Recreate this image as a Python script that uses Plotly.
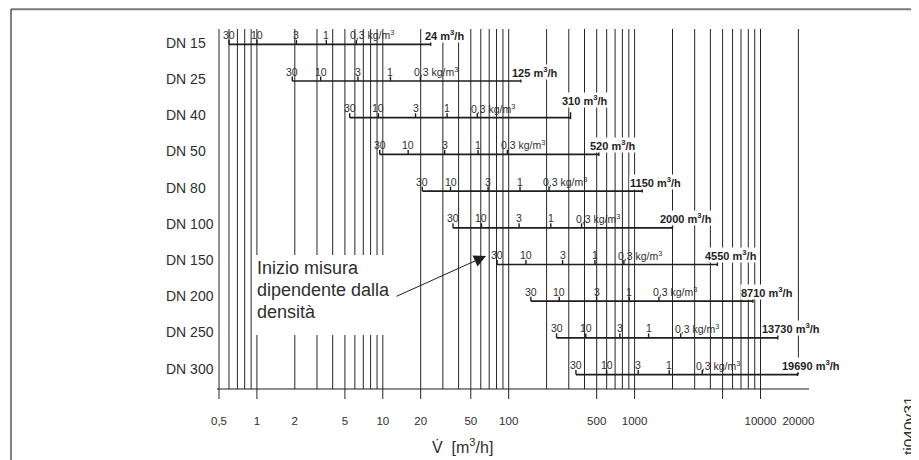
import math
import plotly.graph_objects as go

# ---------------- data ----------------
dn_labels = ["DN 15", "DN 25", "DN 40", "DN 50", "DN 80",
             "DN 100", "DN 150", "DN 200", "DN 250", "DN 300"]
# flow rate (m3/h) at which measurement starts, for gas density (kg/m3)
q_rho30 = [0.60, 1.91, 5.46, 9.45, 20.6, 36.1, 80.9, 150, 240, 342]
q_rho10 = [1.00, 3.21, 9.23, 15.9, 34.5, 60.8, 137, 252, 410, 599]
q_rho3 = [2.06, 6.35, 18.2, 31.0, 68.6, 121, 268, 499, 764, 1068]
q_rho1 = [3.56, 11.5, 32.4, 57.1, 123, 216, 484, 906, 1292, 1884]
q_rho03 = [6.17, 19.9, 56.3, 97.5, 209, 379, 822, 1560, 2321, 3447]
q_max = [24, 125, 310, 520, 1150, 2000, 4550, 8710, 13730, 19690]
density_labels = ["30", "10", "3", "1", "0,3 kg/m<sup>3</sup>"]

tick_vals = [0.5, 1, 2, 5, 10, 20, 50, 100, 500, 1000, 10000, 20000]
tick_text = ["0,5", "1", "2", "5", "10", "20", "50", "100", "500", "1000", "10000", "20000"]
tick_marks = [0.5, 1, 5, 10, 20, 50, 100, 500, 1000, 5000, 10000]

# ---------------- layout geometry ----------------
# page body has an 8px default margin; figure is sized to end at the window edge
OFF = 8
W, H = 919 - OFF, 460 - OFF
L, R_PX, T, B = 217, 811, 29, 400          # in window pixels
PX_PER_DEC = 125.9
x_lo = math.log10(0.5) - 2 / PX_PER_DEC
x_hi = x_lo + (R_PX - L) / PX_PER_DEC
ROW0, ROW_H = 44.3, 36.7


def row_of(px):
    return (px - ROW0) / ROW_H


def pxx(x):
    return (x - L) / (R_PX - L)


def pyy(y):
    return 1 - (y - T) / (B - T)


y_top = row_of(T)
y_bot = row_of(B)
axis_row = row_of(389)
tick_end_row = row_of(399)
n = len(dn_labels)
last_row = n - 1

FONT = "Liberation Sans, Arial, Helvetica, sans-serif"
INK = "#1e1e1e"
TXT = "#2e2e2e"

fig = go.Figure()

# vertical log grid
grid_vals = []
for e in range(-1, 5):
    for m in range(1, 10):
        v = m * 10 ** e
        if 0.5 - 1e-9 <= v <= 20000 + 1e-6:
            grid_vals.append(v)
gx, gy = [], []
for v in grid_vals:
    bottom = axis_row if v < 20000 else last_row
    gx += [v, v, None]
    gy += [y_top, bottom, None]
for v in tick_marks:
    gx += [v, v, None]
    gy += [axis_row, tick_end_row, None]
fig.add_trace(go.Scatter(x=gx, y=gy, mode="lines",
                         line=dict(color="#262626", width=1),
                         hoverinfo="skip"))

# axis line
axis_end = 10 ** (x_hi - 2 / PX_PER_DEC)
fig.add_trace(go.Scatter(x=[10 ** x_lo, axis_end], y=[axis_row, axis_row],
                         mode="lines", line=dict(color=INK, width=1.2),
                         hoverinfo="skip"))

# bars
bx, by = [], []
for k in range(n):
    bx += [q_rho30[k], q_max[k], None]
    by += [k, k, None]
fig.add_trace(go.Scatter(x=bx, y=by, mode="lines",
                         line=dict(color=INK, width=1.7), hoverinfo="skip"))

# bar ticks
series = [q_rho30, q_rho10, q_rho3, q_rho1, q_rho03]
tx, ty = [], []
up = 4.5 / ROW_H
for k in range(n):
    for s in series:
        tx += [s[k], s[k], None]
        ty += [k, k - up, None]
    tx += [q_max[k], q_max[k], None]
    ty += [k + 1.5 / ROW_H, k - 5.5 / ROW_H, None]
fig.add_trace(go.Scatter(x=tx, y=ty, mode="lines",
                         line=dict(color=INK, width=1.4), hoverinfo="skip"))

annotations = []
# DN labels
for k, lab in enumerate(dn_labels):
    annotations.append(dict(xref="paper", yref="y", x=pxx(164), y=k,
                            xanchor="left", yanchor="middle",
                            yshift=1.6 + 0.5 * k, showarrow=False,
                            text=lab, font=dict(size=14, color=TXT, family=FONT)))

# density labels
for k in range(n):
    for s, lab in zip(series, density_labels):
        is_unit = "kg" in lab
        annotations.append(dict(xref="x", yref="y", x=math.log10(s[k]), y=k,
                                xanchor="left" if is_unit else "center",
                                xshift=-8 if is_unit else 0,
                                yanchor="middle", yshift=9.5, showarrow=False,
                                text=lab,
                                font=dict(size=10.5, color=TXT, family=FONT)))

# max labels
MAX_LABEL_RAISE = {"DN 40": 18}
for k in range(n):
    num = str(q_max[k])
    annotations.append(dict(xref="x", yref="y", x=math.log10(q_max[k]), y=k,
                            xanchor="left", xshift=-3.3 * len(num),
                            yanchor="middle",
                            yshift=MAX_LABEL_RAISE.get(dn_labels[k], 9.5),
                            showarrow=False, bgcolor="white", borderpad=0,
                            text="<b>%s m<sup>3</sup>/h</b>" % num,
                            font=dict(size=11, color=INK, family=FONT)))

# explanatory text (white box hides the grid behind it) and arrow
note_lines = ["Inizio misura", "dipendente dalla", "densità"]
for i, line in enumerate(note_lines):
    annotations.append(dict(xref="paper", yref="paper", x=pxx(255),
                            y=pyy(268.3 + 21.7 * i),
                            xanchor="left", yanchor="middle", align="left",
                            showarrow=False, text=line,
                            font=dict(size=18, color=TXT, family=FONT)))
annotations.append(dict(xref="paper", yref="paper", x=pxx(486), y=pyy(256),
                        showarrow=True, arrowhead=2, arrowsize=2.4,
                        arrowwidth=1, arrowcolor=INK, ax=-91, ay=41, text=""))

# axis title
annotations.append(dict(xref="paper", yref="paper", x=pxx(430), y=pyy(446),
                        xanchor="left", yanchor="middle", showarrow=False,
                        text="V\u0307 \u00a0[m<sup>3</sup>/h]",
                        font=dict(size=16, color=TXT, family=FONT)))
# figure code
annotations.append(dict(xref="paper", yref="paper", x=pxx(909), y=pyy(426),
                        xanchor="center", yanchor="middle", showarrow=False,
                        textangle=-90, text="ti040y31",
                        font=dict(size=15.5, color=TXT, family=FONT)))

shapes = [
    dict(type="rect", xref="paper", yref="paper",
         x0=pxx(255), x1=pxx(392), y0=pyy(335), y1=pyy(255),
         fillcolor="white", line=dict(width=0), layer="above"),
    # outer frame
    dict(type="line", xref="paper", yref="paper",
         x0=pxx(11), x1=pxx(917), y0=pyy(9.2), y1=pyy(9.2),
         line=dict(color="#7a7a7a", width=2), layer="above"),
    dict(type="line", xref="paper", yref="paper",
         x0=pxx(11), x1=pxx(11), y0=pyy(9), y1=pyy(470),
         line=dict(color="#4a4a4a", width=1.4), layer="above"),
    dict(type="line", xref="paper", yref="paper",
         x0=pxx(917), x1=pxx(917), y0=pyy(9), y1=pyy(470),
         line=dict(color="#4a4a4a", width=1.4), layer="above"),
]

fig.update_layout(
    width=W, height=H,
    margin=dict(l=L - OFF, r=W - (R_PX - OFF), t=T - OFF, b=H - (B - OFF), pad=0),
    plot_bgcolor="white", paper_bgcolor="white",
    showlegend=False,
    font=dict(family=FONT, color=TXT),
    xaxis=dict(type="log", range=[x_lo, x_hi], tickmode="array",
               tickvals=tick_vals, ticktext=tick_text, ticks="",
               showgrid=False, zeroline=False, showline=False,
               ticklabelstandoff=12,
               tickfont=dict(size=11.5, color=TXT, family=FONT)),
    yaxis=dict(range=[y_bot, y_top], visible=False, showgrid=False,
               zeroline=False),
    annotations=annotations,
    shapes=shapes,
)

fig.write_html("out.html")
